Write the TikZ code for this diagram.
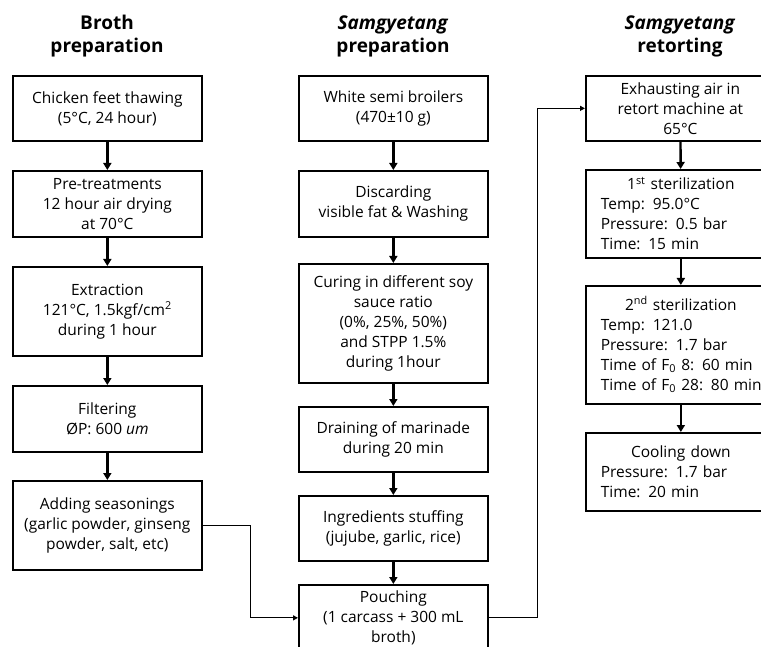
\documentclass[tikz,border=0pt]{standalone}
\usepackage{fontspec}
\setmainfont{Open Sans}
\usetikzlibrary{arrows.meta, positioning}

\begin{document}
\begin{tikzpicture}[x=1pt, y=-1pt,
    stepbox/.style={draw, line width=1.7pt, minimum width=189pt, anchor=north west,
                    align=center, inner sep=2pt, font=\fontsize{15.5}{20}\selectfont},
    listbox/.style={stepbox, align=left, text width=160pt, inner xsep=15pt},
    head/.style={align=center, font=\fontsize{19}{23}\selectfont\bfseries},
    flow/.style={-{Triangle[length=7pt,width=8pt]}, line width=2.4pt},
    link/.style={-{Triangle[length=5pt,width=5pt]}, line width=1.2pt}
]
    \useasboundingbox (0,0) rectangle (761,647);

    % --- Broth preparation ---
    \def\x{12}
    \node[head] (hb) at (107,36) {Broth\\preparation};
    \node[stepbox, minimum height=65pt] (b1) at (\x,75) {Chicken feet thawing\\(5°C, 24 hour)};
    \node[stepbox, minimum height=66pt] (b2) at (\x,170) {Pre-treatments\\12 hour air drying\\at 70°C};
    \node[stepbox, minimum height=89pt] (b3) at (\x,266) {Extraction\\121°C, 1.5kgf/cm\textsuperscript{2}\\during 1 hour};
    \node[stepbox, minimum height=66pt] (b4) at (\x,385) {Filtering\\ØP: 600 \textit{um}};
    \node[stepbox, minimum height=89pt] (b5) at (\x,480) {Adding seasonings\\(garlic powder, ginseng\\powder, salt, etc)};

    % --- Samgyetang preparation ---
    \def\x{298}
    \node[head] (hs) at (393,36) {\textit{Samgyetang}\\preparation};
    \node[stepbox, minimum height=65pt] (m1) at (\x,75) {White semi broilers\\(470±10 g)};
    \node[stepbox, minimum height=66pt] (m2) at (\x,170) {Discarding\\visible fat \& Washing};
    \node[stepbox, minimum height=119pt] (m3) at (\x,263) {Curing in different soy\\sauce ratio\\(0\%, 25\%, 50\%)\\and STPP 1.5\%\\during 1hour};
    \node[stepbox, minimum height=65pt] (m4) at (\x,406) {Draining of marinade\\during 20 min};
    \node[stepbox, minimum height=65pt] (m5) at (\x,495) {Ingredients stuffing\\(jujube, garlic, rice)};
    \node[stepbox, minimum height=66pt] (m6) at (\x,584) {Pouching\\(1 carcass + 300 mL\\broth)};

    % --- Samgyetang retorting ---
    \def\x{585}
    \node[head] (hr) at (680,36) {\textit{Samgyetang}\\retorting};
    \node[stepbox, minimum height=65pt] (r1) at (\x,75) {Exhausting air in\\retort machine at\\65°C};
    \node[listbox, minimum height=88pt] (r2) at (\x,169) {{\centering 1\textsuperscript{st} sterilization\par}Temp: 95.0°C\\Pressure: 0.5 bar\\Time: 15 min};
    \node[listbox, minimum height=118pt] (r3) at (\x,285) {{\centering 2\textsuperscript{nd} sterilization\par}Temp: 121.0\\Pressure: 1.7 bar\\\mbox{Time of F\textsubscript{0} 8: 60 min}\\\mbox{Time of F\textsubscript{0} 28: 80 min}};
    \node[listbox, minimum height=78pt] (r4) at (\x,432) {{\centering Cooling down\par}Pressure: 1.7 bar\\Time: 20 min};

    % --- arrows ---
    \foreach \a/\b in {b1/b2, b2/b3, b3/b4, b4/b5, m1/m2, m2/m3, m3/m4, m4/m5, m5/m6, r1/r2, r2/r3, r3/r4}
        \draw[flow] (\a) -- (\b);
    \draw[link] (b5.east) -- ++(48,0) |- (m6.west);
    \draw[link] (m6.east) -- ++(49,0) |- (r1.west);
\end{tikzpicture}
\end{document}
